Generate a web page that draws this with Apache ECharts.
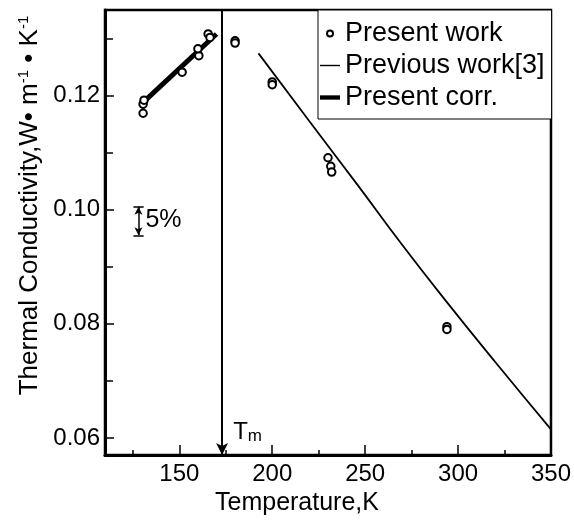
<!DOCTYPE html>
<html>
<head>
<meta charset="utf-8">
<script src="https://cdn.jsdelivr.net/npm/echarts@6/dist/echarts.min.js"></script>
<style>html,body{margin:0;padding:0;background:#fff}#c{width:574px;height:523px}</style>
</head>
<body>
<div id="c"></div>
<script>
// ---- data ----
const xMajorTicks = [150, 200, 250, 300, 350];
const xMinorTicks = [125, 175, 225, 275, 325];
const yMajorTicks = [0.06, 0.08, 0.10, 0.12];
const yMinorTicks = [0.07, 0.09, 0.11, 0.13];
const presentWork = [
  [130.5, 0.1169], [130.5, 0.1185], [131, 0.1192],
  [151.5, 0.1241], [160.5, 0.1270], [160, 0.1282],
  [165.5, 0.1308], [166.5, 0.1302],
  [180, 0.1296], [180, 0.1292],
  [200, 0.1224], [200, 0.1219],
  [230, 0.1091], [231.5, 0.1076], [232, 0.1066],
  [294, 0.0795], [294, 0.0790]
];
const previousWork = [
  [192.6, 0.1274], [220, 0.1155], [246, 0.1043], [270, 0.0938],
  [293, 0.0842], [320, 0.0733], [350, 0.0615]
];
const presentCorr = [[129.5, 0.1185], [170, 0.1308]];
const meltingT = 173;
const tmLabelPos = [178.7, 0.0609];
const errBar = { x: 128, low: 0.0955, high: 0.1005, capL: 125.3, capR: 130.8 };
const errLabelPos = [131.5, 0.0981];

const FONT = 'Liberation Sans, Arial, sans-serif';
const chart = echarts.init(document.getElementById('c'));
chart.setOption({
  animation: false,
  backgroundColor: '#fff',
  textStyle: { fontFamily: FONT, color: '#000' },
  grid: { left: 105, right: 21, top: 10, bottom: 68, show: true, borderColor: '#000', borderWidth: 2.5, backgroundColor: 'transparent' },
  legend: {
    left: 318, top: 10, orient: 'vertical',
    padding: [10, 7, 8, 2], itemGap: 5, itemWidth: 20, itemHeight: 6,
    borderColor: '#000', borderWidth: 1, backgroundColor: '#fff',
    textStyle: { fontFamily: FONT, fontSize: 27, color: '#000' },
    data: [
      { name: 'Present work', icon: 'emptyCircle', itemStyle: { color: '#000', borderColor: '#000', borderWidth: 1.2, opacity: 1 } },
      { name: 'Previous work[3]', icon: 'path://M0,0H20V1.4H0Z', itemStyle: { color: '#000' } },
      { name: 'Present corr.', icon: 'path://M0,0H23V5H0Z', itemStyle: { color: '#000' } }
    ]
  },
  xAxis: [{
    type: 'value', min: 110, max: 350,
    name: 'Temperature,K', nameLocation: 'middle', nameGap: 27,
    nameTextStyle: { fontFamily: FONT, fontSize: 25, color: '#000', padding: [0, 62, 0, 0] },
    axisLine: { show: true, lineStyle: { color: '#000', width: 3 } },
    axisTick: { show: true, inside: true, length: 10, customValues: xMajorTicks, lineStyle: { color: '#000', width: 1.5 } },
    axisLabel: { customValues: xMajorTicks, fontFamily: FONT, fontSize: 24, color: '#000', margin: 7 },
    splitLine: { show: false }
  }, {
    type: 'value', min: 110, max: 350, position: 'bottom',
    axisLine: { show: false },
    axisTick: { show: true, inside: true, length: 5, customValues: xMinorTicks, lineStyle: { color: '#000', width: 1.5 } },
    axisLabel: { show: false }, splitLine: { show: false }
  }],
  yAxis: [{
    type: 'value', min: 0.057, max: 0.135,
    name: 'Thermal Conductivity,W• m{sup|-1} • K{sup|-1}', nameLocation: 'middle', nameGap: 52,
    nameTextStyle: {
      fontFamily: FONT, fontSize: 26, color: '#000', padding: [0, 0, 0, 54],
      rich: { sup: { fontFamily: FONT, fontSize: 15, color: '#000', verticalAlign: 'top', padding: [0, 0, 10, 0] } }
    },
    axisLine: { show: true, lineStyle: { color: '#000', width: 3 } },
    axisTick: { show: true, inside: true, length: 9, customValues: yMajorTicks, lineStyle: { color: '#000', width: 1.5 } },
    axisLabel: { customValues: yMajorTicks, fontFamily: FONT, fontSize: 24, color: '#000', margin: 5, formatter: v => v.toFixed(2) },
    splitLine: { show: false }
  }, {
    type: 'value', min: 0.057, max: 0.135, position: 'left',
    axisLine: { show: false },
    axisTick: { show: true, inside: true, length: 8, customValues: yMinorTicks, lineStyle: { color: '#000', width: 1.5 } },
    axisLabel: { show: false }, splitLine: { show: false }
  }],
  series: [
    {
      name: 'Present work', type: 'scatter', data: presentWork,
      symbol: 'emptyCircle', symbolSize: 7.5,
      itemStyle: { color: '#000', borderColor: '#000', borderWidth: 1.6, opacity: 1 },
      z: 5,
      markLine: {
        silent: true, animation: false,
        symbol: ['arrow', 'none'], symbolSize: [9, 12],
        lineStyle: { color: '#000', width: 2, type: 'solid' },
        label: { show: false },
        data: [{ xAxis: meltingT }]
      },
      markPoint: {
        silent: true, symbol: 'circle', symbolSize: 1,
        itemStyle: { color: 'rgba(0,0,0,0)' },
        data: [{
          coord: tmLabelPos,
          label: {
            show: true, position: 'right', distance: 0,
            formatter: '{a|T}{b|m}',
            rich: {
              a: { fontFamily: FONT, fontSize: 24, color: '#000' },
              b: { fontFamily: FONT, fontSize: 17, color: '#000', verticalAlign: 'bottom', padding: [8, 0, 0, 0] }
            }
          }
        }, {
          coord: errLabelPos,
          label: { show: true, position: 'right', distance: 0, formatter: '5%', fontFamily: FONT, fontSize: 25, color: '#000' }
        }]
      }
    },
    {
      name: 'Previous work[3]', type: 'line', data: previousWork,
      showSymbol: false, symbol: 'none', smooth: true,
      lineStyle: { color: '#000', width: 1.8 }, itemStyle: { color: '#000' },
      markLine: {
        silent: true, animation: false,
        lineStyle: { color: '#000', width: 1.5, type: 'solid' },
        label: { show: false },
        data: [
          [{ coord: [errBar.x, errBar.low], symbol: 'arrow', symbolSize: [6, 8] }, { coord: [errBar.x, errBar.high], symbol: 'arrow', symbolSize: [6, 8] }],
          [{ coord: [errBar.capL, errBar.high], symbol: 'none' }, { coord: [errBar.capR, errBar.high], symbol: 'none' }],
          [{ coord: [errBar.capL, errBar.low], symbol: 'none' }, { coord: [errBar.capR, errBar.low], symbol: 'none' }]
        ]
      }
    },
    {
      name: 'Present corr.', type: 'line', data: presentCorr,
      showSymbol: false, symbol: 'none',
      lineStyle: { color: '#000', width: 5 }, itemStyle: { color: '#000' }, z: 4
    }
  ]
});
</script>
</body>
</html>
